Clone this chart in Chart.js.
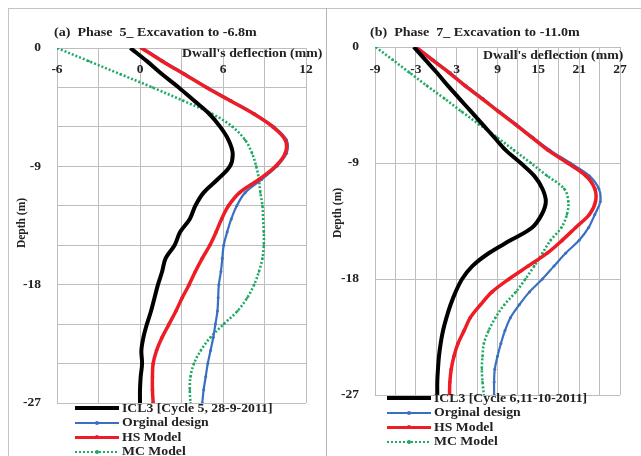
<!DOCTYPE html>
<html>
<head>
<meta charset="utf-8">
<script src="https://cdn.jsdelivr.net/npm/chart.js@4.4.1/dist/chart.umd.min.js"></script>
<style>
  body { margin: 0; background: #fff; width: 641px; height: 456px; overflow: hidden; position: relative;
         font-family: 'Liberation Serif', 'Times New Roman', serif; font-weight: bold; color: #222; }
  .frame { position: absolute; left: 8px; top: 8px; width: 700px; height: 500px; border: 1px solid #c4c4c4; }
  .divider { position: absolute; left: 326px; top: 8px; width: 1px; height: 460px; background: #b4b4b4; }
  canvas { position: absolute; top: 0; }
  .ptitle { position: absolute; top: 24px; font-size: 13px; white-space: pre; transform: scaleX(1.08); transform-origin: left center; }
  .xtitle { position: absolute; font-size: 11.5px; white-space: nowrap; transform: scaleX(1.2); transform-origin: left center; }
  .ytitle { position: absolute; font-size: 11.5px; white-space: nowrap; width: 70px; text-align: center;
            transform: rotate(-90deg); }
  .legend { position: absolute; font-size: 12.5px; }
  .legend .row { display: flex; align-items: center; height: 14.5px; white-space: nowrap; }
  .legend .txt { display: inline-block; transform: scaleX(1.1); transform-origin: left center; }
  .smp { display: inline-block; width: 44px; position: relative; margin-right: 3px; }
  .smp i { position: absolute; left: 20px; top: 50%; width: 4px; height: 4px; margin-top: -2px; border-radius: 50%; }
</style>
</head>
<body>
<div class="frame"></div>
<div class="divider"></div>

<canvas id="chartA" width="326" height="456" style="left:0"></canvas>
<canvas id="chartB" width="314" height="456" style="left:327px"></canvas>

<div class="ptitle" style="left:54px">(a)  Phase  5_ Excavation to -6.8m</div>
<div class="ptitle" style="left:370px">(b)  Phase  7_ Excavation to -11.0m</div>
<div class="xtitle" style="left:182px; top:47px">Dwall's deflection (mm)</div>
<div class="xtitle" style="left:483px; top:49px">Dwall's deflection (mm)</div>
<div class="ytitle" style="left:-14px; top:217px">Depth (m)</div>
<div class="ytitle" style="left:302px; top:207px">Depth (m)</div>

<div class="legend" style="left:75px; top:401px">
  <div class="row"><span class="smp" style="height:4px;background:#000"></span><span class="txt">ICL3 [Cycle 5, 28-9-2011]</span></div>
  <div class="row"><span class="smp" style="height:2px;background:#3a70c2"><i style="background:#3a70c2"></i></span><span class="txt">Orginal design</span></div>
  <div class="row"><span class="smp" style="height:3px;background:#ee1c24"><i style="background:#ee1c24"></i></span><span class="txt">HS Model</span></div>
  <div class="row"><span class="smp" style="height:2px;background:repeating-linear-gradient(90deg,#1ea862 0 2px,transparent 2px 4px)"><i style="background:#1ea862"></i></span><span class="txt">MC Model</span></div>
</div>
<div class="legend" style="left:387px; top:391px">
  <div class="row"><span class="smp" style="height:4px;background:#000"></span><span class="txt">ICL3 [Cycle 6,11-10-2011]</span></div>
  <div class="row"><span class="smp" style="height:2px;background:#3a70c2"><i style="background:#3a70c2"></i></span><span class="txt">Orginal design</span></div>
  <div class="row"><span class="smp" style="height:3px;background:#ee1c24"><i style="background:#ee1c24"></i></span><span class="txt">HS Model</span></div>
  <div class="row"><span class="smp" style="height:2px;background:repeating-linear-gradient(90deg,#1ea862 0 2px,transparent 2px 4px)"><i style="background:#1ea862"></i></span><span class="txt">MC Model</span></div>
</div>

<script>
// depth (m), shared by both panels
const depth = [0, -1, -2, -3, -4, -5, -6, -7, -8, -9, -10, -11, -12, -13,
               -14, -15, -16, -17, -18, -19, -20, -21, -22, -23, -24, -25, -26, -27];

// (a) Phase 5 - deflection (mm)
const a_icl3 = [-0.7, 0.5, 1.6, 2.8, 3.9, 5.0, 5.8, 6.4, 6.7, 6.5, 5.6, 4.6, 4.0, 3.6,
                2.9, 2.5, 1.85, 1.6, 1.3, 1.05, 0.8, 0.5, 0.25, 0.1, 0.15, 0.05, 0, 0];
const a_orig = [0.2, 1.7, 3.3, 4.9, 6.6, 8.3, 9.7, 10.6, 10.6, 9.9, 8.8, 7.6, 7.0, 6.6,
                6.3, 6.05, 5.95, 5.85, 5.7, 5.65, 5.6, 5.45, 5.3, 5.1, 4.9, 4.75, 4.6, 4.5];
const a_hs   = [0.1, 1.6, 3.2, 4.8, 6.5, 8.2, 9.6, 10.5, 10.5, 9.8, 8.6, 7.2, 6.4, 5.9,
                5.5, 5.05, 4.5, 4.0, 3.55, 3.05, 2.6, 2.1, 1.6, 1.2, 0.95, 0.9, 0.9, 0.95];
const a_mc   = [-6, -3.7, -1.4, 0.9, 3.1, 5.2, 6.7, 7.6, 8.1, 8.4, 8.6, 8.7, 8.85, 8.9,
                8.95, 8.95, 8.85, 8.6, 8.25, 7.75, 7.05, 6.05, 5.1, 4.4, 3.9, 3.65, 3.6, 3.65];

// (b) Phase 7 - deflection (mm)
const b_icl3 = [-3.3, -1.6, 0.1, 1.7, 3.4, 5.1, 6.8, 8.5, 10.2, 12.4, 14.4, 15.6, 16.1, 15.5,
                14.1, 10.9, 7.7, 5.3, 3.8, 2.85, 2.1, 1.5, 1.0, 0.65, 0.4, 0.25, 0.15, 0.15];
const b_orig = [-2.9, -0.4, 2.1, 4.4, 6.9, 9.3, 11.8, 14.2, 16.7, 19.7, 22.5, 23.9, 24.1, 23.3,
                22.4, 21.0, 19.0, 17.3, 15.6, 13.7, 12.2, 10.9, 10.1, 9.5, 9.0, 8.6, 8.5, 8.5];
const b_hs   = [-3.0, -0.6, 1.9, 4.2, 6.7, 9.1, 11.6, 14.0, 16.4, 19.3, 22.0, 23.3, 23.4, 22.5,
                20.5, 18.5, 16.3, 13.5, 10.7, 8.2, 6.5, 5.0, 4.1, 3.2, 2.6, 2.2, 2.0, 1.95];
const b_mc   = [-8.9, -6.4, -3.9, -1.4, 1.2, 3.7, 6.3, 8.9, 11.4, 13.9, 16.3, 18.8, 19.4, 19.2,
                18.4, 16.8, 15.6, 14.4, 13.1, 11.7, 10.0, 8.7, 7.7, 7.0, 6.8, 6.7, 6.8, 7.0];

// axis tick labels along the top
const xLabelsA = [-6, 0, 6, 12];
const xLabelsB = [-9, -3, 3, 9, 15, 21, 27];

const FONT = "'Liberation Serif', serif";
const GRID = '#bdbdbd';

// draws the deflection tick labels just under the top edge, like the Excel original
const topLabels = {
    id: 'topLabels',
    afterDraw(chart, args, opts) {
        const { ctx, scales: { x } } = chart;
        ctx.save();
        ctx.font = `bold 13.5px ${FONT}`;
        ctx.fillStyle = '#222';
        ctx.textAlign = 'center';
        ctx.textBaseline = 'middle';
        opts.values.forEach(v => ctx.fillText(String(v), x.getPixelForValue(v), opts.y));
        ctx.restore();
    }
};

function pts(vals) {
    return vals.map((v, i) => ({ x: v, y: depth[i] }));
}

function makeDatasets(icl3, orig, hs, mc) {
    return [
        { label: 'ICL3', data: pts(icl3), borderColor: '#000', borderWidth: 4, pointRadius: 0, order: 0 },
        { label: 'HS Model', data: pts(hs), borderColor: '#ee1c24', backgroundColor: '#ee1c24',
          borderWidth: 3.5, pointRadius: 1.8, pointBorderWidth: 0, order: 1 },
        { label: 'Orginal design', data: pts(orig), borderColor: '#3a70c2', backgroundColor: '#3a70c2',
          borderWidth: 2.2, pointRadius: 1.5, pointBorderWidth: 0, order: 2 },
        { label: 'MC Model', data: pts(mc), borderColor: '#1ea862', backgroundColor: '#1ea862',
          borderWidth: 2.6, borderDash: [2, 2], pointRadius: 1.5, pointStyle: 'rect', pointBorderWidth: 0, order: 3 }
    ];
}

function makeChart(id, datasets, cfg) {
    const ctx = document.getElementById(id).getContext('2d');
    return new Chart(ctx, {
        type: 'scatter',
        data: { datasets },
        plugins: [topLabels],
        options: {
            responsive: false,
            animation: false,
            events: [],
            devicePixelRatio: 1,
            datasets: { scatter: { showLine: true, tension: 0.35 } },
            layout: { padding: { left: 0, top: cfg.top, right: cfg.right, bottom: cfg.bottom } },
            plugins: {
                legend: { display: false },
                tooltip: { enabled: false },
                topLabels: { values: cfg.xLabels, y: 70 }
            },
            scales: {
                x: {
                    type: 'linear', position: 'top',
                    min: cfg.xMin, max: cfg.xMax,
                    ticks: { display: false, stepSize: 3 },
                    grid: { color: GRID, drawTicks: false },
                    border: { display: false },
                    afterFit: s => { s.height = 0; }
                },
                y: {
                    type: 'linear', min: -27, max: 0,
                    ticks: {
                        stepSize: cfg.yStep, padding: 16,
                        color: '#222', font: { family: FONT, size: 13.5, weight: 'bold' },
                        callback: v => (v % 9 === 0 ? String(v) : '')
                    },
                    grid: { color: GRID, drawTicks: false },
                    border: { display: false },
                    afterFit: s => { s.width = cfg.yWidth; }
                }
            }
        }
    });
}

makeChart('chartA', makeDatasets(a_icl3, a_orig, a_hs, a_mc), {
    xMin: -6, xMax: 12, xLabels: xLabelsA, yStep: 3,
    top: 48, right: 20, bottom: 53, yWidth: 57
});

makeChart('chartB', makeDatasets(b_icl3, b_orig, b_hs, b_mc), {
    xMin: -9, xMax: 27, xLabels: xLabelsB, yStep: 9,
    top: 47, right: 21, bottom: 61, yWidth: 48
});
</script>
</body>
</html>
